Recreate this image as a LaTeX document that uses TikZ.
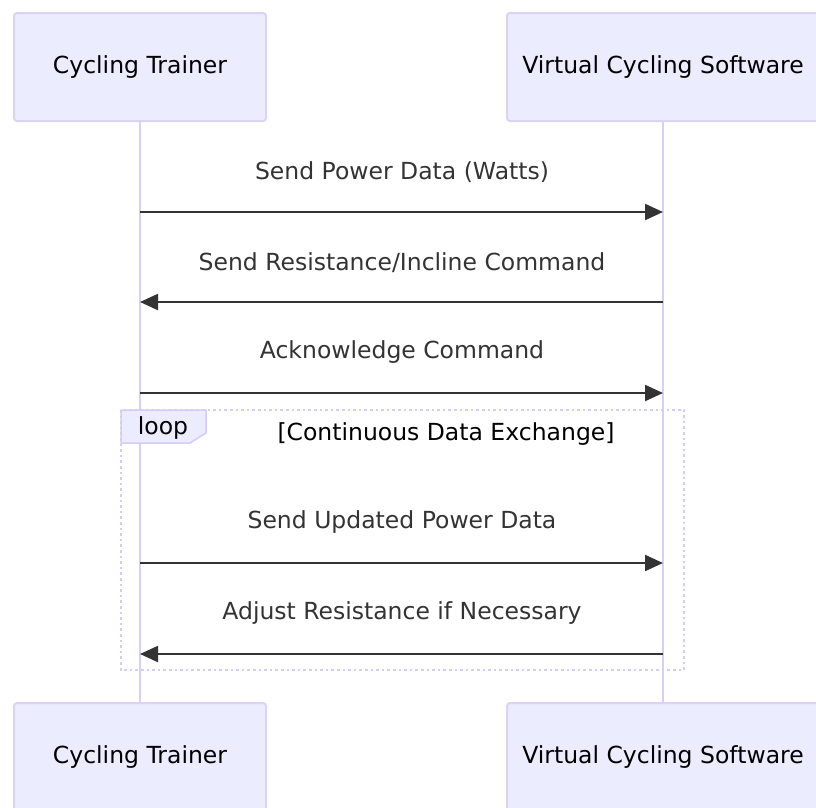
\documentclass[tikz,border=0pt]{standalone}
\usepackage{fontspec}
\setmainfont{DejaVu Sans}
\usetikzlibrary{arrows.meta}
\definecolor{actorfill}{HTML}{ECECFF}
\definecolor{actorline}{HTML}{DCD3F4}
\definecolor{lifeline}{HTML}{D8CFF2}
\definecolor{msgline}{HTML}{333333}
\definecolor{loopline}{HTML}{D4CCF2}
\tikzset{
  actor/.style={draw=actorline, line width=2pt, fill=actorfill, rounded corners=3pt,
    minimum height=108pt, inner sep=0pt, font=\fontsize{23.5}{28}\selectfont, text=black},
  life/.style={draw=lifeline, line width=2.5pt},
  msg/.style={draw=msgline, line width=2.2pt, -{Triangle[length=18pt,width=16pt]}},
  msglabel/.style={font=\fontsize{23.5}{28}\selectfont, text=msgline, inner sep=0pt},
  loopframe/.style={draw=loopline, line width=2.6pt, dash pattern=on 2.6pt off 3pt},
  looptag/.style={draw=loopline, line width=1.5pt, fill=actorfill},
}
\begin{document}
\begin{tikzpicture}[x=1pt, y=-1pt]
  \useasboundingbox (0,0) rectangle (816,807);
  % participants, top and bottom
  \node[actor, minimum width=252pt] (trT) at (140,67) {Cycling Trainer};
  \node[actor, minimum width=312pt] (swT) at (663,67) {Virtual Cycling Software};
  \node[actor, minimum width=252pt] (trB) at (140,757) {Cycling Trainer};
  \node[actor, minimum width=312pt] (swB) at (663,757) {Virtual Cycling Software};
  % lifelines
  \draw[life] (trT.south) -- (trB.north);
  \draw[life] (swT.south) -- (swB.north);
  % loop frame
  \draw[loopframe] (121,410) rectangle (684,670);
  \filldraw[looptag] (121,410) -- (206,410) -- (206,433) -- (190,443) -- (121,443) -- cycle;
  \node[msglabel, text=black] (looplbl) at (163,428) {loop};
  \node[msglabel, text=black] (loopcond) at (446,434) {[Continuous Data Exchange]};
  % message anchors on the lifelines
  \foreach \n/\y in {1/212, 2/302, 3/393, 4/563, 5/654} {
    \coordinate (t\n) at (trT.south |- 0,\y);
    \coordinate (s\n) at (swT.south |- 0,\y);
  }
  % messages
  \draw[msg] (t1) -- (s1);
  \node[msglabel] (m1) at (402,172) {Send Power Data (Watts)};
  \draw[msg] (s2) -- (t2);
  \node[msglabel] (m2) at (402,263) {Send Resistance/Incline Command};
  \draw[msg] (t3) -- (s3);
  \node[msglabel] (m3) at (402,352) {Acknowledge Command};
  \draw[msg] (t4) -- (s4);
  \node[msglabel] (m4) at (402,522) {Send Updated Power Data};
  \draw[msg] (s5) -- (t5);
  \node[msglabel] (m5) at (402,613) {Adjust Resistance if Necessary};
\end{tikzpicture}
\end{document}
